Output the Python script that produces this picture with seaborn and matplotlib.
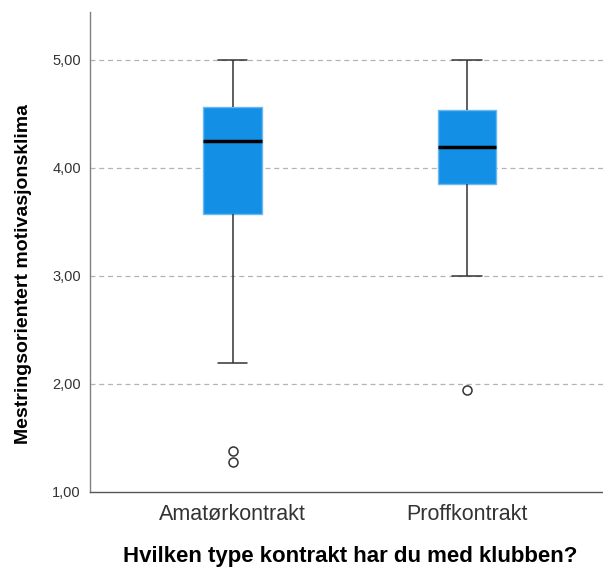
import pandas as pd
import matplotlib
matplotlib.use("Agg")
import matplotlib.pyplot as plt
from matplotlib.ticker import FuncFormatter
import seaborn as sns

# Data (raw scores per group)
groups = ['Amatørkontrakt', 'Proffkontrakt']
amator = [1.27, 1.38, 2.19, 3.57, 3.80, 4.00, 4.25, 4.40, 4.50, 4.56, 4.75, 4.90, 5.00]
proff = [1.94, 3.00, 3.85, 4.00, 4.19, 4.35, 4.53, 4.80, 5.00]
y_ticks = [1, 2, 3, 4, 5]

df = pd.DataFrame({
    'kontrakt': [groups[0]] * len(amator) + [groups[1]] * len(proff),
    'score': amator + proff,
})

sns.set_style('white')
plt.rcParams['font.family'] = ['Liberation Sans', 'DejaVu Sans']

fig = plt.figure(figsize=(6.03, 5.71), dpi=100)
ax = fig.add_axes([0.149, 0.139, 0.851, 0.840])

# dashed grid behind the boxes
for t in y_ticks[1:]:
    ax.axhline(t, color='#b4b4b4', linestyle=(0, (4, 3)), linewidth=0.9, zorder=0)

sns.boxplot(data=df, x='kontrakt', y='score', order=groups, ax=ax,
            width=0.25, color='#138fe6', saturation=1, linecolor='#333333',
            linewidth=1.1, fliersize=6.5,
            boxprops={'edgecolor': '#6cb9ef', 'linewidth': 1.0},
            medianprops={'color': 'black', 'linewidth': 2.5},
            flierprops={'marker': 'o', 'markerfacecolor': 'white',
                        'markeredgecolor': '#333333', 'markeredgewidth': 1.1})

ax.set_xlim(-0.61, 1.58)
ax.set_ylim(1.0, 5.44)
ax.set_yticks(y_ticks)
ax.yaxis.set_major_formatter(FuncFormatter(lambda v, p: f"{v:.2f}".replace('.', ',')))

for s in ['top', 'right']:
    ax.spines[s].set_visible(False)
ax.spines['left'].set_color('#808080')
ax.spines['bottom'].set_color('#555555')
ax.spines['left'].set_linewidth(1.0)
ax.spines['bottom'].set_linewidth(1.0)

ax.tick_params(axis='y', length=0, pad=6.5, labelsize=10.5, labelcolor='#333333')
ax.tick_params(axis='x', length=0, pad=9, labelsize=15.5, labelcolor='#333333')

ax.set_xlabel('Hvilken type kontrakt har du med klubben?', fontsize=16,
              fontweight='bold', color='black')
ax.set_ylabel('Mestringsorientert motivasjonsklima', fontsize=14,
              fontweight='bold', color='black')
ax.xaxis.set_label_coords(0.507, -0.113)
ax.yaxis.set_label_coords(-0.112, 0.454)

fig.savefig('out.png', dpi=100)
